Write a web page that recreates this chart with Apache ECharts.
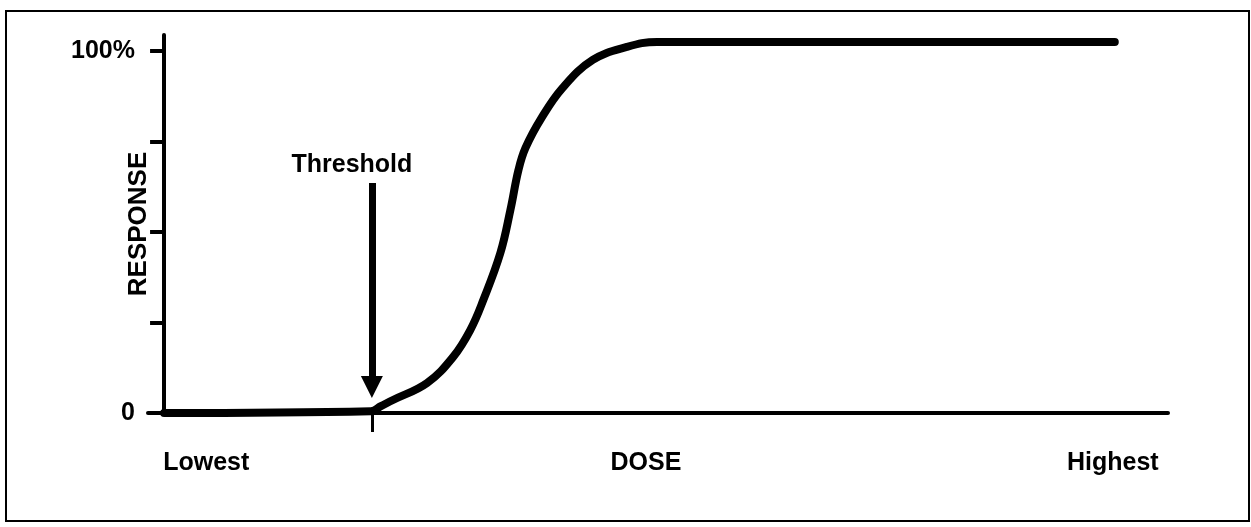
<!DOCTYPE html>
<html>
<head>
    <meta charset="utf-8">
    <title>Dose response</title>
    <script type="text/javascript" src="https://cdn.jsdelivr.net/npm/echarts@6/dist/echarts.min.js"></script>
    <style type="text/css">
        html, body { margin: 0; padding: 0; background: #fff; }
        #main { width: 1251px; height: 527px; }
    </style>
</head>
<body>
    <div id="main"></div>
    <script type="text/javascript">
        // curve: dose (0..100) vs response (%)
        var doseX     = [0, 20.6, 21.6, 22.8, 26.2, 28.8, 30.5, 31.8, 33.5, 34.5, 35.3, 36.0, 37.6, 39.7, 42.7, 46.1, 49.1, 94.7];
        var responseY = [0, 0.5,  1.9,  3.6,  8.3,  15.5, 22.9, 31.2, 44.2, 56.1, 67.1, 73.2, 81.5, 89.8, 97.5, 101.1, 102.5, 102.5];

        var yTicks      = [0, 25, 50, 75, 100];
        var yLabelVals  = [0, 100];
        var yLabelText  = {0: '0', 100: '100%'};

        var xLabelVals  = [4.2, 48, 94.5];
        var xLabelText  = {4.2: 'Lowest', 48: 'DOSE', 94.5: 'Highest'};

        var thresholdDose = 20.7;
        var arrowFrom     = 63.5;
        var arrowTo       = 7.2;

        var chart = echarts.init(document.getElementById('main'));
        var font = '"Liberation Sans", Arial, Helvetica, sans-serif';

        var option = {
            animation: false,
            backgroundColor: '#fff',
            grid: { left: 148, right: 83, top: 35, bottom: 114 },
            xAxis: {
                type: 'value',
                min: -1.6,
                max: 100,
                splitLine: { show: false },
                axisLine: { lineStyle: { color: '#000', width: 4 } },
                axisTick: {
                    show: true,
                    inside: false,
                    length: 19,
                    customValues: [thresholdDose],
                    lineStyle: { color: '#000', width: 3 }
                },
                axisLabel: {
                    customValues: xLabelVals,
                    margin: 38,
                    color: '#000',
                    fontFamily: font,
                    fontWeight: 'bold',
                    fontSize: 25,
                    formatter: function (v) { return xLabelText[v] || ''; }
                }
            },
            yAxis: {
                type: 'value',
                min: 0,
                max: 104.4,
                name: 'RESPONSE',
                nameLocation: 'middle',
                nameRotate: 90,
                nameGap: -4,
                nameMoveOverlap: false,
                nameTextStyle: { color: '#000', fontFamily: font, fontWeight: 'bold', fontSize: 26 },
                splitLine: { show: false },
                axisLine: { onZero: true, lineStyle: { color: '#000', width: 4 } },
                axisTick: {
                    show: true,
                    inside: false,
                    length: 14,
                    customValues: yTicks,
                    lineStyle: { color: '#000', width: 4 }
                },
                axisLabel: {
                    customValues: yLabelVals,
                    margin: 13,
                    color: '#000',
                    fontFamily: font,
                    fontWeight: 'bold',
                    fontSize: 25,
                    formatter: function (v) { return yLabelText[v] || ''; }
                }
            },
            graphic: [{
                type: 'rect',
                shape: { x: 6, y: 11, width: 1243, height: 510 },
                style: { fill: 'none', stroke: '#000', lineWidth: 2 },
                silent: true
            }],
            series: [{
                type: 'line',
                data: doseX.map(function (x, i) { return [x, responseY[i]]; }),
                smooth: 0.4,
                showSymbol: false,
                clip: false,
                lineStyle: { color: '#000', width: 8, cap: 'round' },
                markLine: {
                    silent: true,
                    symbol: ['none', 'triangle'],
                    symbolSize: 22,
                    lineStyle: { color: '#000', width: 7, type: 'solid' },
                    label: {
                        show: true,
                        position: 'start',
                        distance: 8,
                        offset: [-20, 3],
                        formatter: 'Threshold',
                        color: '#000',
                        fontFamily: font,
                        fontWeight: 'bold',
                        fontSize: 25
                    },
                    data: [[
                        { coord: [thresholdDose, arrowFrom] },
                        { coord: [thresholdDose, arrowTo] }
                    ]]
                }
            }]
        };

        chart.setOption(option);
    </script>
</body>
</html>
